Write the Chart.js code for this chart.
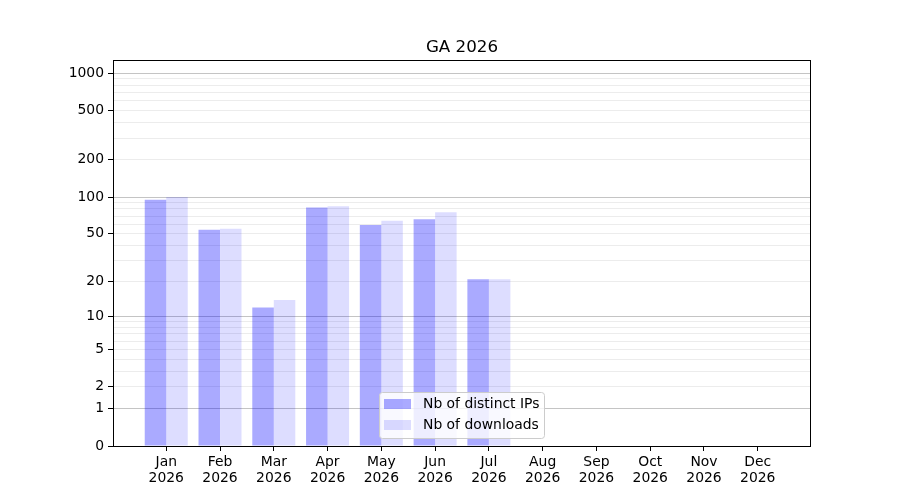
<!DOCTYPE html>
<html>
<head>
<meta charset="utf-8">
<script src="https://cdn.jsdelivr.net/npm/chart.js@4/dist/chart.umd.min.js"></script>
<style>
html,body{margin:0;padding:0;background:#fff;}
#wrap{width:900px;height:500px;position:relative;}
</style>
</head>
<body>
<div id="wrap"><canvas id="c" width="900" height="500"></canvas></div>
<script>
// ---- data ----
const months = ['Jan','Feb','Mar','Apr','May','Jun','Jul','Aug','Sep','Oct','Nov','Dec'];
const yearLabel = '2026';
const distinctIPs = [95, 54, 12, 82, 59, 66, 21];
const downloads = [100, 55, 14, 84, 64, 75, 21];
const seriesNames = ['Nb of distinct IPs', 'Nb of downloads'];
const labelledTicks = [0, 1, 2, 5, 10, 20, 50, 100, 200, 500, 1000];
const majorTicks = [1, 10, 100, 1000];
const minorTicks = [2,3,4,5,6,7,8,9,20,30,40,50,60,70,80,90,200,300,400,500,600,700,800,900];
const titleText = 'GA 2026';

const FONT = '"DejaVu Sans", sans-serif';

// custom log10(1+x) scale
class Log1pScale extends Chart.LinearScale {
  determineDataLimits() {
    this.min = this.options.min;
    this.max = this.options.max;
  }
  buildTicks() {
    const vals = [...new Set([0, ...majorTicks, ...minorTicks])].sort((a,b)=>a-b);
    return vals.map(v => ({value: v}));
  }
  configure() {
    super.configure();
    this._t0 = Math.log10(1 + this.min);
    this._tr = Math.log10(1 + this.max) - this._t0;
  }
  getPixelForValue(v) {
    if (v === null || v === undefined || isNaN(v)) return NaN;
    return this.getPixelForDecimal((Math.log10(1 + Math.max(v, 0)) - this._t0) / this._tr);
  }
  getValueForPixel(p) {
    return Math.pow(10, this._t0 + this.getDecimalForPixel(p) * this._tr) - 1;
  }
}
Log1pScale.id = 'log1p';
Log1pScale.defaults = {};
Chart.register(Log1pScale);

const frameAndExtras = {
  id: 'frameAndExtras',
  afterDraw(chart) {
    const ctx = chart.ctx, a = chart.chartArea;
    ctx.save();
    // frame
    ctx.strokeStyle = '#000';
    ctx.lineWidth = 1;
    ctx.strokeRect(Math.round(a.left) + 0.5, Math.round(a.top) + 0.5, Math.round(a.right - a.left) - 1, Math.round(a.bottom - a.top));
    // title
    ctx.fillStyle = '#000';
    ctx.font = '16.7px ' + FONT;
    ctx.textAlign = 'center';
    ctx.textBaseline = 'alphabetic';
    ctx.fillText(titleText, (a.left + a.right) / 2, 52);
    // legend
    const lx = 379, ly = 392, lw = 165, lh = 46;
    ctx.fillStyle = 'rgba(255,255,255,0.8)';
    ctx.strokeStyle = '#cccccc';
    ctx.beginPath();
    if (ctx.roundRect) ctx.roundRect(lx + 0.5, ly + 0.5, lw, lh, 3); else ctx.rect(lx + 0.5, ly + 0.5, lw, lh);
    ctx.fill();
    ctx.stroke();
    ctx.font = '13.9px ' + FONT;
    ctx.textAlign = 'left';
    ctx.textBaseline = 'middle';
    chart.data.datasets.forEach((ds, i) => {
      const cy = ly + 12 + i * 21;
      ctx.fillStyle = ds.backgroundColor;
      ctx.fillRect(lx + 5, cy - 5, 27, 10);
      ctx.fillStyle = '#000';
      ctx.fillText(ds.label, lx + 44, cy);
    });
    ctx.restore();
  }
};

new Chart(document.getElementById('c'), {
  type: 'bar',
  data: {
    datasets: [
      { label: seriesNames[0], data: distinctIPs.map((v, i) => ({x: i, y: v})), backgroundColor: 'rgba(0,0,255,0.333)', borderWidth: 0 },
      { label: seriesNames[1], data: downloads.map((v, i) => ({x: i, y: v})), backgroundColor: 'rgba(0,0,255,0.133)', borderWidth: 0 }
    ]
  },
  options: {
    responsive: false,
    animation: false,
    devicePixelRatio: 1,
    categoryPercentage: 0.8,
    barPercentage: 1.0,
    layout: { padding: { left: 53, right: 89, top: 60, bottom: 0 } },
    plugins: { legend: { display: false }, title: { display: false }, tooltip: { enabled: false } },
    scales: {
      x: {
        type: 'linear',
        min: -0.99, max: 11.99,
        offset: false,
        afterBuildTicks: s => { s.ticks = months.map((_, i) => ({value: i})); },
        afterFit: s => { s.height = 54; },
        grid: { drawOnChartArea: false, drawTicks: true, tickLength: 5, tickColor: '#000', offset: false },
        border: { display: false },
        ticks: {
          autoSkip: false, maxRotation: 0, padding: 3, color: '#000',
          font: { family: FONT, size: 13.9, lineHeight: 1.15 },
          callback: v => [months[v], yearLabel]
        }
      },
      y: {
        type: 'log1p',
        min: 0, max: 1279,
        afterFit: s => { s.width = 60; },
        grid: {
          drawTicks: true, tickLength: 5,
          color: c => majorTicks.includes(c.tick.value) ? '#c4c4c4' : (c.tick.value === 0 ? 'rgba(0,0,0,0)' : '#ececec'),
          tickColor: c => labelledTicks.includes(c.tick.value) ? '#000' : 'rgba(0,0,0,0)',
          lineWidth: 1
        },
        border: { display: false },
        ticks: {
          autoSkip: false, padding: 4, color: '#000',
          font: { family: FONT, size: 13.9 },
          callback: v => labelledTicks.includes(v) ? String(v) : ''
        }
      }
    }
  },
  plugins: [frameAndExtras]
});
</script>
</body>
</html>
